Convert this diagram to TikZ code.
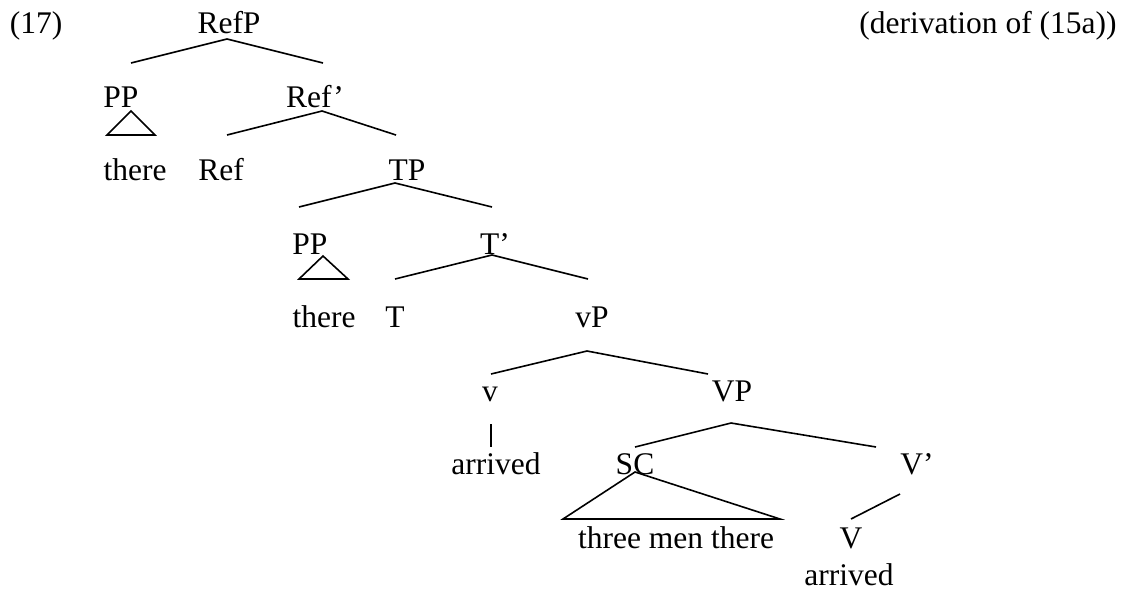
\documentclass[tikz,border=0pt]{standalone}
\usepackage{fontspec}
\setmainfont{Liberation Serif}
\begin{document}
\begin{tikzpicture}[x=1pt,y=-1pt,
  lab/.style={anchor=base,inner sep=0pt,font=\fontsize{31.5}{37}\selectfont},
  br/.style={line width=1.6pt,line join=miter}]
\useasboundingbox (0,0) rectangle (1131,590);
% labels
\node[lab] (n17) at (36,33) {(17)};
\node[lab] (refp) at (229,33) {RefP};
\node[lab] (deriv) at (988,33) {(derivation of (15a))};
\node[lab] (pp1) at (121,107) {PP};
\node[lab] (refbar) at (315,107) {Ref’};
\node[lab] (there1) at (135,180) {there};
\node[lab] (ref) at (221,180) {Ref};
\node[lab] (tp) at (407,180) {TP};
\node[lab] (pp2) at (310,254) {PP};
\node[lab] (tbar) at (495,254) {T’};
\node[lab] (there2) at (324,327) {there};
\node[lab] (t) at (395,327) {T};
\node[lab] (vsp) at (592,327) {vP};
\node[lab] (vs) at (490,401) {v};
\node[lab] (vbp) at (732,401) {VP};
\node[lab] (arr1) at (496,474) {arrived};
\node[lab] (sc) at (635,474) {SC};
\node[lab] (vbar) at (917,474) {V’};
\node[lab] (tmt) at (676,548) {three men there};
\node[lab] (vb) at (851,548) {V};
\node[lab] (arr2) at (849,585) {arrived};
% branch points
\coordinate (a-refp) at (227,39);
\coordinate (e-pp1) at (131,63);
\coordinate (e-refbar) at (323,63);
\coordinate (a-refbar) at (322,111);
\coordinate (e-ref) at (227,135);
\coordinate (e-tp) at (396,135);
\coordinate (a-pp1) at (131,111);
\coordinate (l-pp1) at (107,135);
\coordinate (r-pp1) at (155,135);
\coordinate (a-tp) at (395,183);
\coordinate (e-pp2) at (299,207);
\coordinate (e-tbar) at (492,207);
\coordinate (a-pp2) at (323,256);
\coordinate (l-pp2) at (299,279);
\coordinate (r-pp2) at (348,279);
\coordinate (a-tbar) at (492,255);
\coordinate (e-t) at (395,279);
\coordinate (e-vsp) at (588,279);
\coordinate (a-vsp) at (587,351);
\coordinate (e-vs) at (491,374);
\coordinate (e-vbp) at (708,374);
\coordinate (a-vs) at (491,424);
\coordinate (e-arr1) at (491,447);
\coordinate (a-vbp) at (731,423);
\coordinate (e-sc) at (635,447);
\coordinate (e-vbar) at (876,447);
\coordinate (a-sc) at (635,472);
\coordinate (l-sc) at (563,519);
\coordinate (r-sc) at (780,519);
\coordinate (a-vbar) at (900,494);
\coordinate (e-vb) at (851,519);
% connectors
\draw[br] (e-pp1) -- (a-refp) -- (e-refbar);
\draw[br] (a-pp1) -- (l-pp1) -- (r-pp1) -- cycle;
\draw[br] (e-ref) -- (a-refbar) -- (e-tp);
\draw[br] (e-pp2) -- (a-tp) -- (e-tbar);
\draw[br] (a-pp2) -- (l-pp2) -- (r-pp2) -- cycle;
\draw[br] (e-t) -- (a-tbar) -- (e-vsp);
\draw[br] (e-vs) -- (a-vsp) -- (e-vbp);
\draw[br] (a-vs) -- (e-arr1);
\draw[br] (e-sc) -- (a-vbp) -- (e-vbar);
\draw[br] (a-sc) -- (l-sc) -- (r-sc) -- cycle;
\draw[br] (a-vbar) -- (e-vb);
\end{tikzpicture}
\end{document}
